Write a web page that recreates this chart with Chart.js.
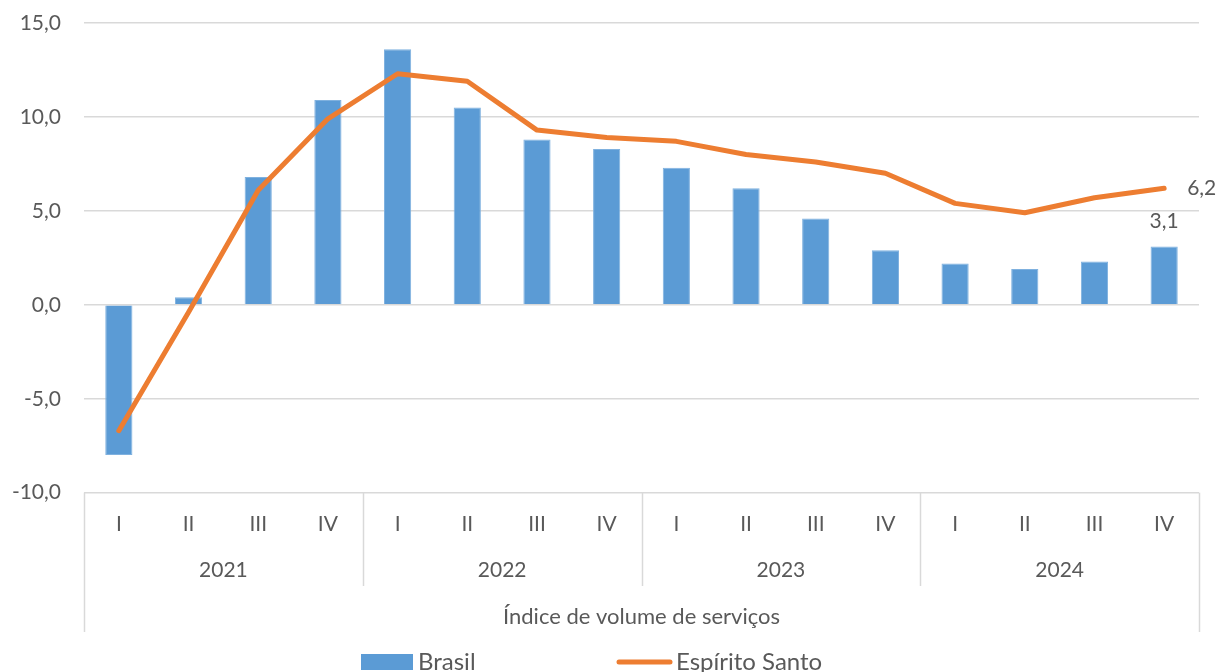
<!DOCTYPE html>
<html>
<head>
<meta charset="utf-8">
<script src="https://cdn.jsdelivr.net/npm/chart.js@4"></script>
<style>
  html, body { margin: 0; padding: 0; background: #fff; }
  #wrap { width: 1218px; height: 672px; position: relative; }
</style>
</head>
<body>
<div id="wrap"><canvas id="c" width="1218" height="672"></canvas></div>
<script>
const quarters = ["I","II","III","IV","I","II","III","IV","I","II","III","IV","I","II","III","IV"];
const years = ["2021","2022","2023","2024"];
const brasil = [-8.0, 0.4, 6.8, 10.9, 13.6, 10.5, 8.8, 8.3, 7.3, 6.2, 4.6, 2.9, 2.2, 1.9, 2.3, 3.1];
const espiritoSanto = [-6.7, -0.4, 6.1, 9.9, 12.3, 11.9, 9.3, 8.9, 8.7, 8.0, 7.6, 7.0, 5.4, 4.9, 5.7, 6.2];
const yTicks = [-10, -5, 0, 5, 10, 15];
const axisTitle = "Índice de volume de serviços";
const seriesNames = ["Brasil", "Espírito Santo"];

const FONT = "Lato, 'Open Sans', sans-serif";
const TXT = "#595959";
const GRID = "#d9d9d9";
const BLUE = "#5B9BD5";
const ORANGE = "#ED7D31";

function fmt(v) { return v.toFixed(1).replace(".", ","); }

const extras = {
  id: "extras",
  afterDraw(chart) {
    const ctx = chart.ctx;
    const area = chart.chartArea;
    const n = quarters.length;
    const groupW = (area.right - area.left) / years.length;
    ctx.save();
    // separators
    ctx.strokeStyle = GRID;
    ctx.lineWidth = 1.5;
    for (let k = 0; k <= years.length; k++) {
      const x = Math.round(area.left + k * groupW) + 0.5;
      const yEnd = (k === 0 || k === years.length) ? 632 : 586;
      ctx.beginPath();
      ctx.moveTo(x, area.bottom);
      ctx.lineTo(x, yEnd);
      ctx.stroke();
    }
    // year labels
    ctx.fillStyle = TXT;
    ctx.font = "21px " + FONT;
    ctx.textAlign = "center";
    ctx.textBaseline = "middle";
    years.forEach((y, i) => {
      ctx.fillText(y, area.left + (i + 0.5) * groupW, 570);
    });
    // axis title
    ctx.font = "22px " + FONT;
    ctx.fillText(axisTitle, (area.left + area.right) / 2, 617);
    // data labels
    ctx.font = "21px " + FONT;
    const lineMeta = chart.getDatasetMeta(1);
    const lastPt = lineMeta.data[n - 1];
    ctx.textAlign = "left";
    ctx.fillText(fmt(espiritoSanto[n - 1]), lastPt.x + 23, lastPt.y);
    const barMeta = chart.getDatasetMeta(0);
    const lastBar = barMeta.data[n - 1];
    ctx.textAlign = "center";
    ctx.fillText(fmt(brasil[n - 1]), lastBar.x, lastBar.y - 25);
    // legend
    ctx.font = "24px " + FONT;
    ctx.fillStyle = BLUE;
    ctx.fillRect(361, 654, 52, 16);
    ctx.fillStyle = TXT;
    ctx.textAlign = "left";
    ctx.fillText(seriesNames[0], 418, 662);
    ctx.strokeStyle = ORANGE;
    ctx.lineWidth = 5;
    ctx.lineCap = "round";
    ctx.beginPath();
    ctx.moveTo(619, 662);
    ctx.lineTo(670, 662);
    ctx.stroke();
    ctx.fillText(seriesNames[1], 676, 662);
    ctx.restore();
  }
};

new Chart(document.getElementById("c"), {
  data: {
    labels: quarters,
    datasets: [
      {
        type: "bar",
        label: seriesNames[0],
        data: brasil,
        backgroundColor: BLUE,
        borderColor: "#7fb1df",
        borderWidth: 1,
        categoryPercentage: 1.0,
        barPercentage: 0.39,
        order: 2
      },
      {
        type: "line",
        label: seriesNames[1],
        data: espiritoSanto,
        borderColor: ORANGE,
        borderWidth: 5,
        pointRadius: 0,
        tension: 0,
        borderCapStyle: "round",
        borderJoinStyle: "round",
        order: 1
      }
    ]
  },
  options: {
    responsive: false,
    animation: false,
    layout: { padding: { top: 23, right: 19, left: 0, bottom: 0 } },
    plugins: { legend: { display: false }, tooltip: { enabled: false } },
    scales: {
      x: {
        offset: true,
        grid: { display: false, drawTicks: false },
        border: { display: false },
        ticks: { color: TXT, font: { family: FONT, size: 21 }, padding: 19, maxRotation: 0, autoSkip: false },
        afterFit(s) { s.height = 179.3; s.paddingLeft = 0; s.paddingRight = 0; }
      },
      y: {
        min: -10, max: 15,
        afterBuildTicks(s) { s.ticks = yTicks.map(v => ({ value: v })); },
        grid: { color: GRID, lineWidth: 1.5, drawTicks: false },
        border: { display: false },
        ticks: { color: TXT, font: { family: FONT, size: 21 }, padding: 23, callback: v => fmt(v) },
        afterFit(s) { s.width = 84; s.paddingTop = 0; s.paddingBottom = 0; }
      }
    }
  },
  plugins: [extras]
});
</script>
</body>
</html>
